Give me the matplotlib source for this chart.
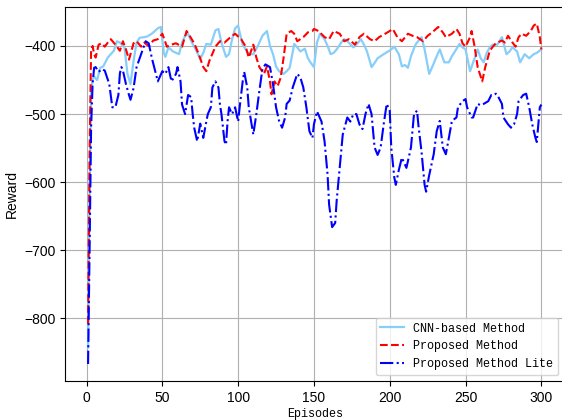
import matplotlib
matplotlib.use("Agg")
import matplotlib.pyplot as plt

cnn_x = [1,2,3,4,5,7,9,11,14,16,18,20,22,25,27,29,31,33,35,38,40,43,47,49,51,52,54,57,61,63,65,67,69,72,75,77,79,82,85,87,89,92,94,96,98,100,101,103,105,107,110,113,116,119,121,123,125,127,130,132,134,137,139,141,144,146,148,150,152,154,157,159,161,163,165,168,170,173,176,178,181,183,185,188,190,192,194,196,199,201,203,206,208,210,212,214,217,219,221,223,226,228,231,233,235,236,239,241,243,246,248,250,253,255,258,260,262,264,266,268,271,274,277,279,281,284,286,289,292,295,297,300]
cnn_y = [-843,-620,-470,-448,-445,-450,-432,-430,-417,-412,-407,-393,-395,-402,-441,-456,-422,-395,-388,-387,-386,-382,-374,-372,-410,-416,-402,-408,-412,-395,-385,-382,-393,-405,-419,-410,-397,-398,-377,-375,-395,-416,-412,-390,-374,-370,-380,-398,-405,-412,-412,-400,-385,-378,-400,-412,-430,-437,-441,-437,-432,-397,-402,-408,-404,-418,-425,-431,-395,-382,-390,-400,-412,-410,-405,-395,-390,-395,-402,-398,-390,-398,-408,-431,-425,-418,-415,-412,-408,-405,-401,-412,-430,-428,-432,-415,-398,-392,-387,-405,-441,-431,-415,-405,-418,-424,-424,-415,-408,-397,-402,-405,-437,-424,-405,-418,-424,-410,-402,-398,-398,-387,-412,-408,-402,-408,-424,-412,-418,-412,-410,-405]

prop_x = [1,2,3,4,5,6,8,10,12,14,16,19,22,24,26,28,31,33,36,38,41,44,47,50,53,56,59,63,66,68,71,74,77,79,81,85,88,91,95,98,102,105,107,110,112,114,117,119,121,122,124,126,128,130,132,135,137,139,143,146,149,150,153,157,160,163,167,170,173,177,180,183,187,190,193,197,200,202,205,208,212,215,218,222,225,228,232,235,237,241,244,246,248,250,253,254,256,258,260,261,263,266,268,270,274,276,278,281,283,285,287,290,293,295,297,299,300]
prop_y = [-808,-560,-405,-400,-412,-417,-398,-396,-401,-395,-390,-398,-407,-393,-405,-420,-396,-393,-401,-395,-400,-392,-390,-382,-401,-398,-396,-401,-378,-385,-396,-412,-431,-437,-422,-401,-393,-395,-387,-382,-390,-401,-417,-398,-417,-431,-441,-430,-452,-471,-452,-459,-447,-417,-382,-378,-382,-393,-387,-380,-378,-375,-378,-387,-390,-378,-382,-393,-390,-398,-387,-382,-390,-393,-387,-382,-378,-375,-387,-393,-382,-385,-387,-393,-385,-380,-372,-380,-387,-382,-375,-382,-396,-401,-387,-378,-401,-431,-445,-452,-431,-407,-401,-396,-392,-395,-385,-395,-401,-387,-382,-385,-378,-370,-367,-387,-405]

lite_x = [1,2,3,4,5,6,8,10,12,15,17,19,21,22,23,24,26,28,29,31,33,36,39,41,43,47,50,52,54,56,59,60,62,63,65,67,69,70,71,73,75,77,79,80,82,83,85,87,88,89,91,92,93,94,96,98,100,101,103,104,106,107,110,111,112,114,116,118,121,123,125,127,129,131,132,134,136,139,141,143,145,147,149,150,152,155,157,159,160,162,164,165,167,169,172,174,176,178,180,182,184,186,188,190,192,194,196,198,200,201,203,204,206,208,210,211,213,214,216,218,219,221,223,224,226,229,231,233,235,237,239,241,244,245,248,250,251,254,255,258,260,262,265,267,269,270,271,274,275,278,280,282,284,285,288,290,292,294,296,297,299,300]
lite_y = [-867,-700,-520,-455,-432,-431,-438,-434,-436,-456,-490,-490,-472,-440,-431,-436,-456,-472,-479,-462,-431,-412,-393,-396,-417,-452,-437,-441,-431,-452,-441,-431,-452,-486,-500,-472,-475,-500,-520,-540,-514,-535,-511,-500,-490,-461,-452,-461,-486,-500,-540,-545,-511,-490,-500,-490,-511,-490,-452,-438,-461,-490,-530,-515,-500,-466,-434,-427,-431,-456,-490,-510,-520,-505,-485,-480,-461,-441,-446,-461,-490,-525,-535,-515,-496,-511,-540,-589,-633,-666,-660,-627,-579,-530,-505,-511,-500,-500,-515,-522,-500,-485,-500,-549,-560,-549,-515,-485,-495,-549,-593,-604,-582,-564,-574,-579,-559,-549,-500,-495,-518,-556,-604,-614,-590,-559,-525,-510,-549,-559,-535,-510,-505,-490,-481,-478,-490,-505,-505,-485,-487,-485,-481,-472,-472,-470,-472,-485,-505,-515,-520,-515,-500,-481,-472,-470,-490,-515,-534,-541,-490,-486]

series_labels = ["CNN-based Method", "Proposed Method", "Proposed Method Lite"]
x_label = "Episodes"
y_label = "Reward"

fig = plt.figure(figsize=(5.62, 4.2), dpi=100)
ax = fig.add_axes([65.4/562, 1 - 381/420, (564 - 65.4)/562, (381 - 6.5)/420])

ax.plot(cnn_x, cnn_y, color="lightskyblue", lw=1.6, label=series_labels[0])
ax.plot(prop_x, prop_y, "r--", lw=1.5, label=series_labels[1])
ax.plot(lite_x, lite_y, "b-.", lw=1.5, label=series_labels[2])

ax.grid(True)
ax.set_xticks([0, 50, 100, 150, 200, 250, 300])
ax.set_yticks([-800, -700, -600, -500, -400])
for lab in ax.get_xticklabels() + ax.get_yticklabels():
    lab.set_family("Liberation Sans")
ax.set_xlabel(x_label, family="Liberation Mono", fontsize=8.5, labelpad=2)
ax.set_ylabel(y_label, family="Liberation Sans", fontsize=10)
ax.legend(loc="lower right", prop={"family": "Liberation Mono", "size": 8.5})

fig.savefig("out.png", dpi=100)
